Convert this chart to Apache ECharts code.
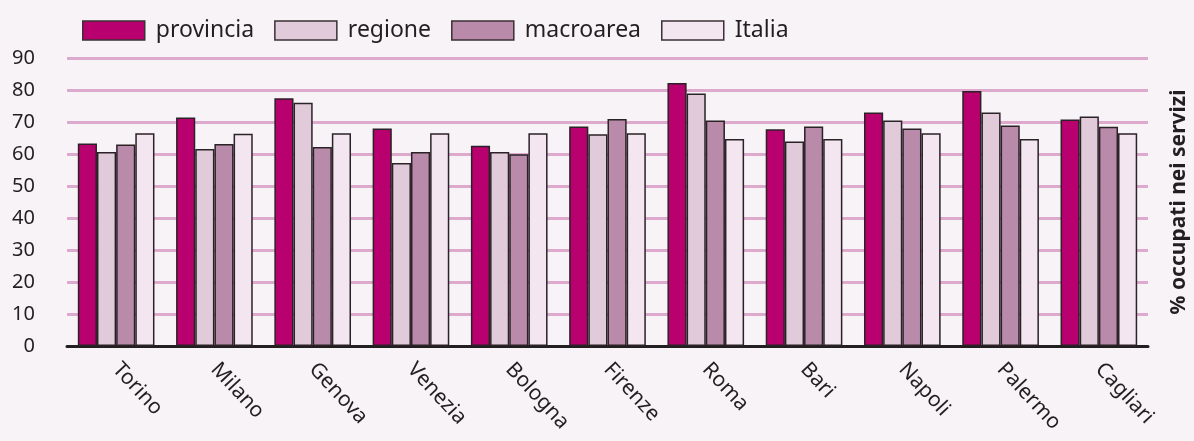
<!DOCTYPE html>
<html>
<head>
<meta charset="utf-8">
<script src="https://cdn.jsdelivr.net/npm/echarts@6/dist/echarts.min.js"></script>
<style>
html,body{margin:0;padding:0;background:#f8f3f7;}
#c{width:1194px;height:441px;}
</style>
</head>
<body>
<div id="c"></div>
<script>
const categories = ['Torino','Milano','Genova','Venezia','Bologna','Firenze','Roma','Bari','Napoli','Palermo','Cagliari'];
const seriesNames = ['provincia','regione','macroarea','Italia'];
const provincia = [63.3, 71.4, 77.4, 68.0, 62.6, 68.6, 82.2, 67.7, 73.0, 79.7, 70.8];
const regione   = [60.6, 61.6, 76.0, 57.2, 60.6, 66.2, 78.9, 63.9, 70.5, 73.0, 71.7];
const macroarea = [63.0, 63.1, 62.2, 60.6, 59.9, 70.9, 70.5, 68.6, 68.0, 68.9, 68.5];
const italia    = [66.5, 66.3, 66.5, 66.5, 66.5, 66.5, 64.7, 64.7, 66.5, 64.7, 66.5];
const yTicks = [0,10,20,30,40,50,60,70,80,90];
const axisName = '% occupati nei servizi';

const colors = ['#b8006e', '#e1cbdb', '#b98aaa', '#f4e6f0'];
const values = [provincia, regione, macroarea, italia];
const font = "'Noto Sans', sans-serif";

const chart = echarts.init(document.getElementById('c'), null, {renderer:'canvas'});
chart.setOption({
  backgroundColor: '#f8f3f7',
  animation: false,
  legend: {
    top: 14, left: 77,
    icon: 'rect',
    itemWidth: 62, itemHeight: 19, itemGap: 20,
    itemStyle: {borderColor: '#3a3035', borderWidth: 1.5},
    textStyle: {fontFamily: font, fontSize: 23, color: '#231f20', padding: [0, 0, 0, 6]},
    data: seriesNames
  },
  grid: {left: 67, right: 46, top: 58, bottom: 95, outerBoundsMode: 'none', containLabel: false},
  xAxis: {
    type: 'category',
    data: categories,
    axisLine: {lineStyle: {color: '#231f20', width: 3}},
    axisTick: {show: false},
    axisLabel: {rotate: -47, margin: 20, fontFamily: font, fontSize: 21, color: '#231f20'}
  },
  yAxis: [{
    type: 'value', min: 0, max: 90, interval: 10,
    axisLine: {show: false}, axisTick: {show: false},
    axisLabel: {margin: 32, fontFamily: font, fontSize: 20, color: '#231f20',
      formatter: v => yTicks.includes(v) ? String(v) : ''},
    splitLine: {lineStyle: {color: '#ddaacd', width: 3}}
  }, {
    type: 'value', min: 0, max: 90, interval: 10, position: 'right',
    axisLine: {show: false}, axisTick: {show: false}, axisLabel: {show: false},
    splitLine: {show: false},
    name: axisName, nameLocation: 'middle', nameRotate: 90, nameGap: 21,
    nameTextStyle: {fontFamily: font, fontSize: 21, fontWeight: 'bold', color: '#231f20'}
  }],
  series: seriesNames.map((n, i) => ({
    name: n, type: 'bar', data: values[i],
    barGap: '0%', barCategoryGap: '22%',
    itemStyle: {color: colors[i], borderColor: '#2a2226', borderWidth: 1.5}
  }))
});
</script>
</body>
</html>
